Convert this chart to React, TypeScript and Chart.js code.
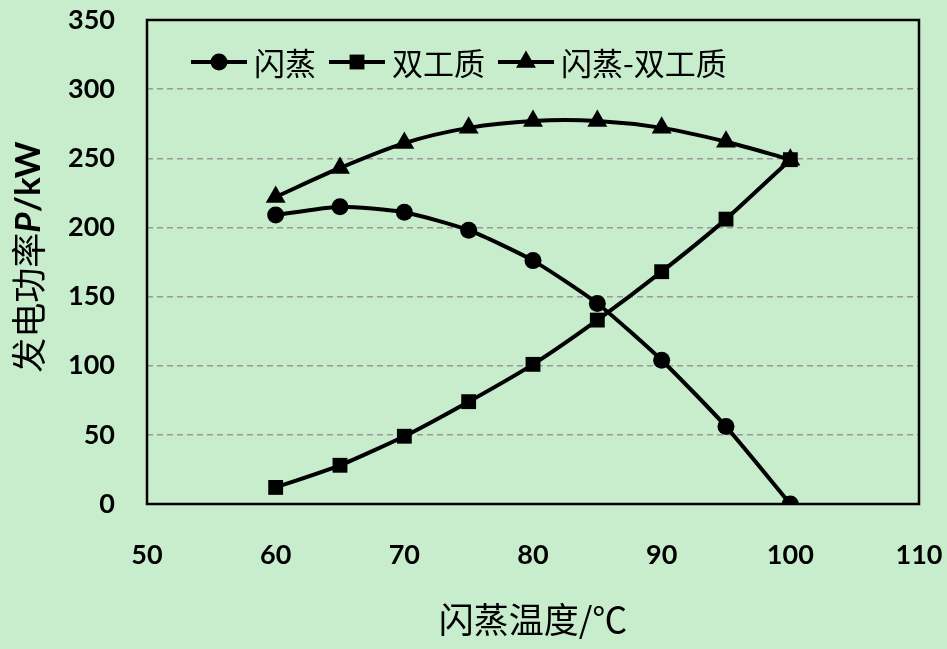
import React, { useEffect, useRef } from "react";
import { Chart, registerables } from "chart.js";

Chart.register(...registerables);

// ---- data ----
const temperatures = [60, 65, 70, 75, 80, 85, 90, 95, 100];
const flashPower = [209, 215, 211, 198, 176, 145, 104, 56, 0];
const dualPower = [12, 28, 49, 74, 101, 133, 168, 206, 249];
const flashDualPower = [222, 243, 261, 272, 277, 277, 272, 262, 249];
const seriesNames = ["闪蒸", "双工质", "闪蒸-双工质"];
const seriesMarkers = ["circle", "rect", "triangle"];
const seriesTension = [0.2, 0.2, 0.3];
const xTitle = "闪蒸温度/℃";
const yTitleParts = ["发电功率", "P", "/kW"];
const xMin = 50, xMax = 110, xStep = 10;
const yMin = 0, yMax = 350, yStep = 50;

const BG = "#c7edcd";
const CJK = '"Noto Sans CJK SC", "Noto Sans", sans-serif';
const NUM = 'Lato, "Open Sans", sans-serif';

const markerRadius: Record<string, number> = { circle: 8.5, rect: 10.5, triangle: 11.5 };

function drawMarker(ctx: CanvasRenderingContext2D, style: string, x: number, y: number) {
  const r = markerRadius[style];
  ctx.beginPath();
  if (style === "circle") {
    ctx.arc(x, y, r, 0, Math.PI * 2);
  } else if (style === "rect") {
    const s = Math.SQRT1_2 * r;
    ctx.rect(x - s, y - s, 2 * s, 2 * s);
  } else {
    let a = 0;
    ctx.moveTo(x + Math.sin(a) * r, y - Math.cos(a) * r);
    a += (2 * Math.PI) / 3;
    ctx.lineTo(x + Math.sin(a) * r, y - Math.cos(a) * r);
    a += (2 * Math.PI) / 3;
    ctx.lineTo(x + Math.sin(a) * r, y - Math.cos(a) * r);
    ctx.closePath();
  }
  ctx.fill();
}

const decorPlugin = {
  id: "decor",
  beforeDatasetsDraw(chart: any) {
    const { ctx, chartArea } = chart;
    const { left, top, right, bottom } = chartArea;
    ctx.save();
    ctx.strokeStyle = "#000";
    ctx.lineWidth = 2.5;
    ctx.strokeRect(left, top, right - left, bottom - top);
    ctx.restore();
  },
  afterDraw(chart: any) {
    const { ctx, chartArea } = chart;
    const { left, right } = chartArea;
    ctx.save();
    ctx.fillStyle = "#000";
    ctx.strokeStyle = "#000";
    ctx.textBaseline = "middle";

    // x title
    ctx.font = `35px ${CJK}`;
    ctx.textAlign = "center";
    ctx.fillText(xTitle, (left + right) / 2, 620);

    // y title (rotated)
    const fonts = [`35px ${CJK}`, `italic bold 35px ${NUM}`, `bold 35px ${NUM}`];
    let total = 0;
    const widths = yTitleParts.map((p, i) => {
      ctx.font = fonts[i];
      const w = ctx.measureText(p).width;
      total += w;
      return w;
    });
    ctx.translate(29, 257);
    ctx.rotate(-Math.PI / 2);
    ctx.textAlign = "left";
    let cx = -total / 2;
    yTitleParts.forEach((p, i) => {
      ctx.font = fonts[i];
      ctx.fillText(p, cx, 0);
      cx += widths[i];
    });
    ctx.setTransform(1, 0, 0, 1, 0, 0);

    // legend
    const ly = 62;
    let lx = 191;
    ctx.font = `31px ${CJK}`;
    ctx.textAlign = "left";
    seriesNames.forEach((name, i) => {
      ctx.lineWidth = 4;
      ctx.beginPath();
      ctx.moveTo(lx, ly);
      ctx.lineTo(lx + 56, ly);
      ctx.stroke();
      drawMarker(ctx, seriesMarkers[i], lx + 28, ly);
      ctx.fillText(name, lx + 63, ly + 1);
      lx += 63 + ctx.measureText(name).width + 13;
    });
    ctx.restore();
  },
};

export default function App() {
  const canvasRef = useRef<HTMLCanvasElement | null>(null);

  useEffect(() => {
    document.body.style.margin = "0";
    const canvas = canvasRef.current;
    if (!canvas) return;
    const values = [flashPower, dualPower, flashDualPower];
    const chart = new Chart(canvas, {
      type: "line",
      data: {
        datasets: values.map((vals, i) => ({
          label: seriesNames[i],
          data: temperatures.map((t, j) => ({ x: t, y: vals[j] })),
          borderColor: "#000",
          backgroundColor: "#000",
          borderWidth: 4,
          pointStyle: seriesMarkers[i] as any,
          pointRadius: markerRadius[seriesMarkers[i]],
          pointBackgroundColor: "#000",
          pointBorderWidth: 0,
          tension: seriesTension[i],
          fill: false,
        })),
      },
      options: {
        animation: false,
        responsive: true,
        maintainAspectRatio: false,
        layout: { padding: { left: 0, right: 28, top: 20, bottom: 0 }, autoPadding: false },
        plugins: {
          legend: { display: false },
          tooltip: { enabled: false },
        },
        scales: {
          x: {
            type: "linear",
            min: xMin,
            max: xMax,
            ticks: {
              stepSize: xStep,
              padding: 35,
              color: "#000",
              font: { family: NUM, size: 27, weight: "bold" },
              maxRotation: 0,
            },
            grid: { display: false, drawTicks: false },
            border: { display: false },
            afterFit: (s: any) => {
              s.height = 145;
              s.paddingLeft = 0;
              s.paddingRight = 0;
            },
          },
          y: {
            min: yMin,
            max: yMax,
            ticks: {
              stepSize: yStep,
              padding: 32,
              color: "#000",
              font: { family: NUM, size: 27, weight: "bold" },
            },
            grid: {
              drawTicks: false,
              lineWidth: 1.5,
              color: (c: any) =>
                c.tick && (c.tick.value === yMin || c.tick.value === yMax) ? "rgba(0,0,0,0)" : "#999999",
            },
            border: { display: false, dash: [6, 4] },
            afterFit: (s: any) => {
              s.width = 147;
              s.paddingTop = 0;
              s.paddingBottom = 0;
            },
          },
        },
      },
      plugins: [decorPlugin],
    });
    return () => chart.destroy();
  }, []);

  return (
    <div style={{ width: 947, height: 649, position: "relative", background: BG }}>
      <canvas ref={canvasRef} />
    </div>
  );
}
